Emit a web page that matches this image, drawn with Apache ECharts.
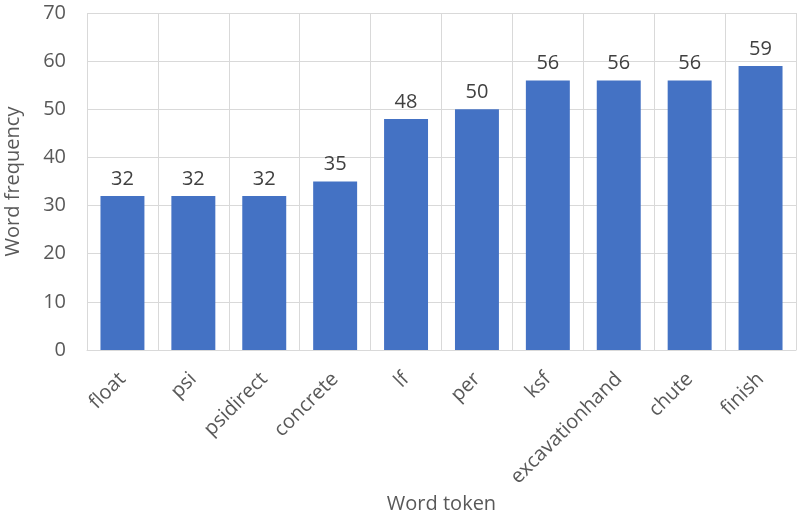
<!DOCTYPE html>
<html>
<head>
<meta charset="utf-8">
<script src="https://cdn.jsdelivr.net/npm/echarts@6/dist/echarts.min.js"></script>
<style>
  html, body { margin: 0; padding: 0; background: #ffffff; }
  #chart { width: 800px; height: 520px; }
</style>
</head>
<body>
<div id="chart"></div>
<script>
// Word tokens and how often each appears
const tokens = ['float', 'psi', 'psidirect', 'concrete', 'lf', 'per', 'ksf', 'excavationhand', 'chute', 'finish'];
const frequencies = [32, 32, 32, 35, 48, 50, 56, 56, 56, 59];
const yTicks = [0, 10, 20, 30, 40, 50, 60, 70];

const FONT = '"Open Sans", sans-serif';
const chart = echarts.init(document.getElementById('chart'), null, { renderer: 'canvas' });

chart.setOption({
  animation: false,
  textStyle: { fontFamily: FONT },
  grid: { left: 87, right: 4, top: 13, bottom: 170, containLabel: false, outerBoundsMode: 'none' },
  xAxis: {
    type: 'category',
    data: tokens,
    name: 'Word token',
    nameLocation: 'middle',
    nameGap: 138,
    nameTextStyle: { fontSize: 20, color: '#595959', fontFamily: FONT },
    axisLine: { show: true, lineStyle: { color: '#D9D9D9', width: 1 } },
    axisTick: { show: false },
    splitLine: { show: true, lineStyle: { color: '#D9D9D9', width: 1 } },
    axisLabel: { rotate: 45, fontSize: 20, color: '#595959', margin: 26, interval: 0, fontFamily: FONT }
  },
  yAxis: {
    type: 'value',
    min: yTicks[0],
    max: yTicks[yTicks.length - 1],
    interval: 10,
    name: 'Word frequency',
    nameLocation: 'middle',
    nameGap: 64,
    nameTextStyle: { fontSize: 20, color: '#595959', fontFamily: FONT },
    axisLine: { show: false },
    axisTick: { show: false },
    splitLine: { show: true, lineStyle: { color: '#D9D9D9', width: 1 } },
    axisLabel: { fontSize: 20, color: '#595959', margin: 21, fontFamily: FONT }
  },
  series: [{
    type: 'bar',
    data: frequencies,
    barCategoryGap: '38%',
    itemStyle: { color: '#4472C4' },
    label: { show: true, position: 'top', distance: 7, fontSize: 20, color: '#404040', fontFamily: FONT }
  }]
});
</script>
</body>
</html>
